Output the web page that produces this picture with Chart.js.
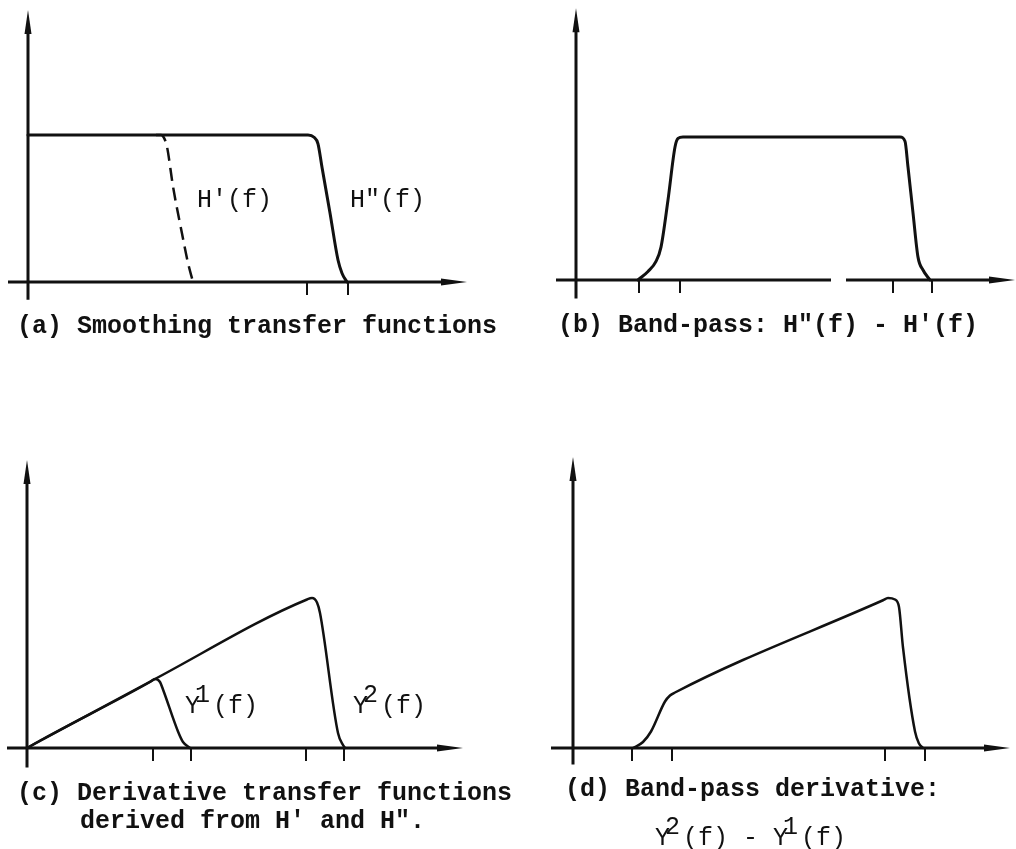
<!DOCTYPE html>
<html lang="en">
<head>
<meta charset="UTF-8">
<title>Smoothing and derivative transfer functions</title>
<script src="https://cdn.jsdelivr.net/npm/chart.js"></script>
<style>
  html, body { margin: 0; padding: 0; background: #fff; }
  #figure { position: relative; width: 1016px; height: 849px; overflow: hidden; }
  #figure canvas { position: absolute; }
</style>
</head>
<body>
<div id="figure">
  <canvas id="panelA" width="540" height="345" style="left:0;top:0"></canvas>
  <canvas id="panelB" width="476" height="345" style="left:540px;top:0"></canvas>
  <canvas id="panelC" width="540" height="419" style="left:0;top:430px"></canvas>
  <canvas id="panelD" width="476" height="419" style="left:540px;top:430px"></canvas>
</div>
<script>
// (a) smoothing transfer functions, pass level = 1
const hDoubleX = [0, 28.0, 28.6, 29.0, 29.4, 30.2, 31.0, 31.4, 31.9];
const hDoubleY = [1, 1, 0.985, 0.94, 0.78, 0.47, 0.15, 0.06, 0];
const hSingleX = [12.8, 13.3, 13.6, 13.9, 14.5, 15.4, 16.0, 16.5];
const hSingleY = [1, 1, 0.98, 0.92, 0.65, 0.33, 0.13, 0];
const aTicks = [27.9, 32.0];

// (b) band-pass H'' - H'
const bandX = [6.2, 7.2, 8.0, 8.5, 9.2, 9.9, 10.2, 10.7, 32.4, 32.9, 33.2, 33.7, 34.2, 34.7, 35.4];
const bandY = [0, 0.06, 0.13, 0.23, 0.56, 0.93, 0.99, 1, 1, 0.97, 0.79, 0.47, 0.16, 0.07, 0];
const bTicks = [6.3, 10.4, 31.7, 35.6];

// (c) derivative transfer functions
const yOneX = [0, 1.6, 12.3, 12.8, 13.3, 13.6, 15.1, 15.6, 16.3];
const yOneY = [0, 0.06, 0.44, 0.46, 0.44, 0.39, 0.11, 0.04, 0];
const yTwoX = [0, 12.8, 28.0, 28.5, 29.0, 29.3, 31.1, 31.6, 31.8];
const yTwoY = [0, 0.46, 0.99, 1.0, 0.97, 0.90, 0.10, 0.02, 0];
const cTicks = [12.6, 16.4, 27.9, 31.7];

// (d) band-pass derivative Y2 - Y1
const bandDerivX = [6.0, 7.0, 7.8, 9.2, 9.7, 10.2, 31.0, 31.5, 32.2, 32.6, 33.0, 34.2, 34.6, 35.0];
const bandDerivY = [0, 0.04, 0.11, 0.31, 0.35, 0.37, 0.985, 1.0, 0.99, 0.94, 0.67, 0.11, 0.03, 0];
const dTicks = [5.9, 9.9, 31.2, 35.2];

const INK = '#111';
const LABEL_FONT = '25px "Liberation Mono", "DejaVu Sans Mono", monospace';
const CAPTION_FONT = 'bold 25px "Liberation Mono", "DejaVu Sans Mono", monospace';

function points(xs, ys) {
  return xs.map((v, i) => ({ x: v, y: ys[i] }));
}

function curve(xs, ys, extra) {
  return Object.assign({
    data: points(xs, ys),
    showLine: true,
    borderColor: INK,
    borderWidth: 3,
    borderJoinStyle: 'round',
    borderCapStyle: 'round',
    pointRadius: 0,
    cubicInterpolationMode: 'monotone',
    fill: false
  }, extra || {});
}

// scale limits so that the origin sits at a given pixel of the canvas
function panelScales(canvas, origin, unit) {
  const w = canvas.width, h = canvas.height;
  return {
    x: { type: 'linear', display: false, min: -origin[0] / unit[0], max: (w - origin[0]) / unit[0] },
    y: { type: 'linear', display: false, min: -(h - origin[1]) / unit[1], max: origin[1] / unit[1] }
  };
}

// text with "^c" marking a raised character
function drawRich(ctx, left, baseline, text, font) {
  ctx.font = font;
  const parts = text.split(/\^(.)/);
  let cx = left;
  parts.forEach((p, i) => {
    if (!p) return;
    const sup = i % 2 === 1;
    ctx.fillText(p, cx - (sup ? 5 : 0), baseline - (sup ? 11 : 0));
    cx += ctx.measureText(p).width - (sup ? 2 : 0);
  });
}

function sketchPlugin(axes, labels, captions) {
  return {
    id: 'sketch',
    beforeDatasetsDraw(chart) {
      const { ctx } = chart;
      const x = chart.scales.x, y = chart.scales.y;
      const x0 = x.getPixelForValue(0), y0 = y.getPixelForValue(0);
      ctx.save();
      ctx.strokeStyle = INK;
      ctx.fillStyle = INK;
      ctx.lineWidth = 3;

      // horizontal axis, arrow at the right end
      const segs = axes.xSegments;
      const tipX = x.getPixelForValue(segs[segs.length - 1][1]);
      segs.forEach(([a, b], i) => {
        const last = i === segs.length - 1;
        ctx.beginPath();
        ctx.moveTo(x.getPixelForValue(a), y0);
        ctx.lineTo(last ? tipX - 20 : x.getPixelForValue(b), y0);
        ctx.stroke();
      });
      ctx.beginPath();
      ctx.moveTo(tipX, y0);
      ctx.lineTo(tipX - 26, y0 - 3.5);
      ctx.lineTo(tipX - 26, y0 + 3.5);
      ctx.closePath();
      ctx.fill();

      // vertical axis, arrow at the top
      const tipY = y.getPixelForValue(axes.yTo);
      ctx.beginPath();
      ctx.moveTo(x0, y.getPixelForValue(axes.yFrom));
      ctx.lineTo(x0, tipY + 18);
      ctx.stroke();
      ctx.beginPath();
      ctx.moveTo(x0, tipY);
      ctx.lineTo(x0 - 3.5, tipY + 24);
      ctx.lineTo(x0 + 3.5, tipY + 24);
      ctx.closePath();
      ctx.fill();

      // tick marks below the frequency axis
      ctx.lineWidth = 2;
      axes.ticks.forEach(t => {
        const px = x.getPixelForValue(t);
        ctx.beginPath();
        ctx.moveTo(px, y0);
        ctx.lineTo(px, y0 + 13);
        ctx.stroke();
      });
      ctx.restore();
    },
    afterDraw(chart) {
      const { ctx } = chart;
      const x = chart.scales.x, y = chart.scales.y;
      ctx.save();
      ctx.fillStyle = INK;
      ctx.textBaseline = 'alphabetic';
      labels.forEach(l => drawRich(ctx, x.getPixelForValue(l.x), y.getPixelForValue(l.y), l.text, LABEL_FONT));
      captions.forEach(c => drawRich(ctx, c.left, c.baseline, c.text, c.bold ? CAPTION_FONT : LABEL_FONT));
      ctx.restore();
    }
  };
}

function makePanel(id, origin, unit, datasets, axes, labels, captions) {
  const canvas = document.getElementById(id);
  return new Chart(canvas, {
    type: 'scatter',
    data: { datasets: datasets },
    options: {
      responsive: false,
      animation: false,
      events: [],
      layout: { padding: 0 },
      scales: panelScales(canvas, origin, unit),
      plugins: { legend: { display: false }, tooltip: { enabled: false } }
    },
    plugins: [sketchPlugin(axes, labels, captions)]
  });
}

makePanel('panelA', [28, 282], [10, 147],
  [curve(hDoubleX, hDoubleY), curve(hSingleX, hSingleY, { borderWidth: 2.5, borderDash: [13, 7], borderCapStyle: 'butt' })],
  { xSegments: [[-2.0, 43.9]], yFrom: -0.12, yTo: 1.85, ticks: aTicks },
  [{ x: 16.9, y: 0.51, text: "H'(f)" }, { x: 32.2, y: 0.51, text: 'H"(f)' }],
  [{ left: 17, baseline: 333, bold: true, text: '(a) Smoothing transfer functions' }]);

makePanel('panelB', [36, 280], [10, 143],
  [curve(bandX, bandY)],
  { xSegments: [[-2.0, 25.5], [27.0, 43.9]], yFrom: -0.13, yTo: 1.90, ticks: bTicks },
  [],
  [{ left: 18, baseline: 332, bold: true, text: '(b) Band-pass: H"(f) - H\'(f)' }]);

makePanel('panelC', [27, 318], [10, 150],
  [curve(yOneX, yOneY, { borderWidth: 2.5 }), curve(yTwoX, yTwoY, { borderWidth: 2.5 })],
  { xSegments: [[-2.0, 43.6]], yFrom: -0.13, yTo: 1.92, ticks: cTicks },
  [{ x: 15.8, y: 0.233, text: 'Y^1(f)' }, { x: 32.6, y: 0.233, text: 'Y^2(f)' }],
  [{ left: 17, baseline: 370, bold: true, text: '(c) Derivative transfer functions' },
   { left: 80, baseline: 398, bold: true, text: 'derived from H\' and H".' }]);

makePanel('panelD', [33, 318], [10, 150],
  [curve(bandDerivX, bandDerivY, { borderWidth: 2.5 })],
  { xSegments: [[-2.2, 43.7]], yFrom: -0.11, yTo: 1.94, ticks: dTicks },
  [],
  [{ left: 25, baseline: 366, bold: true, text: '(d) Band-pass derivative:' },
   { left: 115, baseline: 415, bold: false, text: 'Y^2(f) - Y^1(f)' }]);
</script>
</body>
</html>
